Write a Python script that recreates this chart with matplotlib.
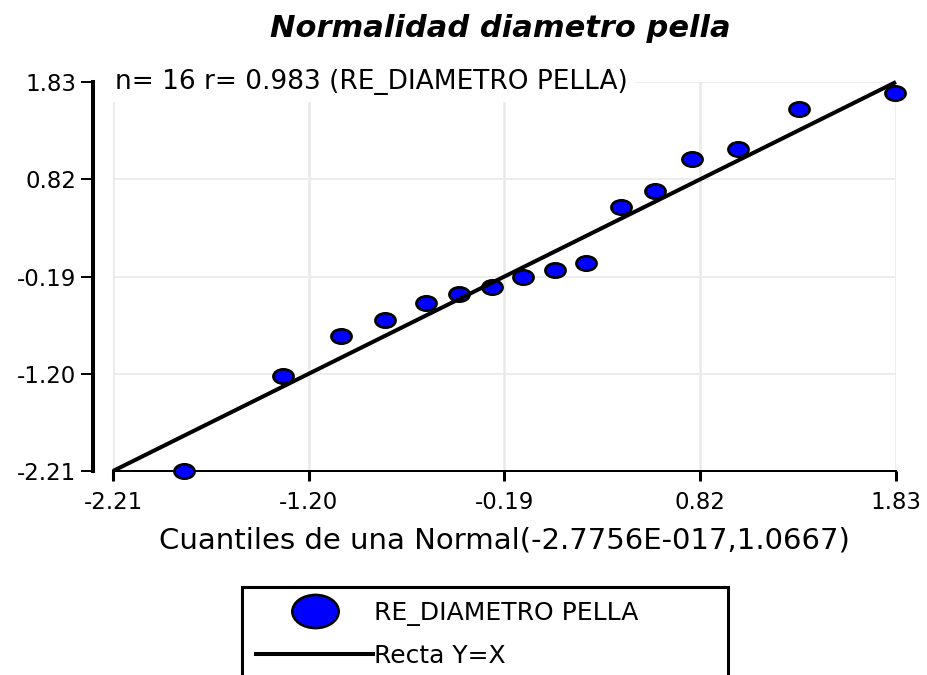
import matplotlib
matplotlib.use("Agg")
import matplotlib.pyplot as plt
from matplotlib.path import Path
from matplotlib.transforms import Affine2D
from matplotlib.lines import Line2D

# cuantiles teoricos (eje x) y residuos observados (eje y)
quantiles = [-1.843, -1.332, -1.032, -0.805, -0.593, -0.423, -0.252, -0.097,
             0.068, 0.228, 0.409, 0.584, 0.776, 1.017, 1.327, 1.826]
residuals = [-2.21, -1.224, -0.808, -0.642, -0.466, -0.372, -0.299, -0.195,
             -0.123, -0.053, 0.535, 0.698, 1.033, 1.131, 1.546, 1.712]
line_x = [-2.21, 1.83]
line_y = [-2.21, 1.83]
ticks = [-2.21, -1.20, -0.19, 0.82, 1.83]
tick_labels = ["-2.21", "-1.20", "-0.19", "0.82", "1.83"]

plt.rcParams['font.family'] = ['DejaVu Sans']

# marcador eliptico (mas ancho que alto)
ellipse = Path.unit_circle().transformed(Affine2D().scale(1.4, 1.0))

fig = plt.figure(figsize=(9.27, 6.75), dpi=100)
ax = fig.add_axes([113/927, 1 - 471/675, 783/927, 389/675])

ax.plot(quantiles, residuals, linestyle='none', marker=ellipse, markersize=14.5,
        markerfacecolor='#0000ff', markeredgecolor='black', markeredgewidth=1.9,
        clip_on=False, zorder=3, label='RE_DIAMETRO PELLA')
ax.plot(line_x, line_y, color='black', linewidth=2.9, clip_on=False, zorder=4,
        solid_capstyle='butt')

ax.set_xlim(-2.21, 1.83)
ax.set_ylim(-2.21, 1.83)
ax.set_xticks(ticks)
ax.set_xticklabels(tick_labels)
ax.set_yticks(ticks)
ax.set_yticklabels(tick_labels)

ax.set_axisbelow(True)
ax.xaxis.grid(True, color='#e9e9e9', linewidth=1.8)
ax.yaxis.grid(True, color='#ececec', linewidth=1.4)

for s in ['top', 'right']:
    ax.spines[s].set_visible(False)
ax.spines['left'].set_position(('outward', 14.4))
ax.spines['left'].set_linewidth(2.9)
ax.spines['bottom'].set_linewidth(1.44)
ax.tick_params(axis='x', length=7.2, width=2.2, pad=7.5, labelsize=16.5)
ax.tick_params(axis='y', length=8.6, width=1.4, pad=3.6, labelsize=16.5)

ax.set_xlabel('Cuantiles de una Normal(-2.7756E-017,1.0667)', fontsize=21, labelpad=9)

ax.text(0.003, 1.0, 'n= 16 r= 0.983 (RE_DIAMETRO PELLA)', transform=ax.transAxes,
        fontsize=19, va='center', ha='left', zorder=5,
        bbox=dict(facecolor='white', edgecolor='none', pad=5))

fig.text(500/927, 1 - 37/675, 'Normalidad diametro pella', ha='center', va='baseline',
         fontsize=22, fontweight='bold', fontstyle='italic')

line_handle = Line2D([], [], color='black', linewidth=2.9)
h, l = ax.get_legend_handles_labels()
leg = fig.legend(h + [line_handle], l + ['Recta Y=X'], loc='upper left',
                 bbox_to_anchor=(242/927, 1 - 587/675, 486/927, 0), mode='expand',
                 fontsize=18, markerscale=2.3, numpoints=1, handlelength=4.7,
                 handletextpad=0.02, borderpad=0.55, labelspacing=0.72,
                 fancybox=False, framealpha=1, edgecolor='black', borderaxespad=0)
leg.get_frame().set_linewidth(2.2)

fig.savefig('out.png', dpi=100)
